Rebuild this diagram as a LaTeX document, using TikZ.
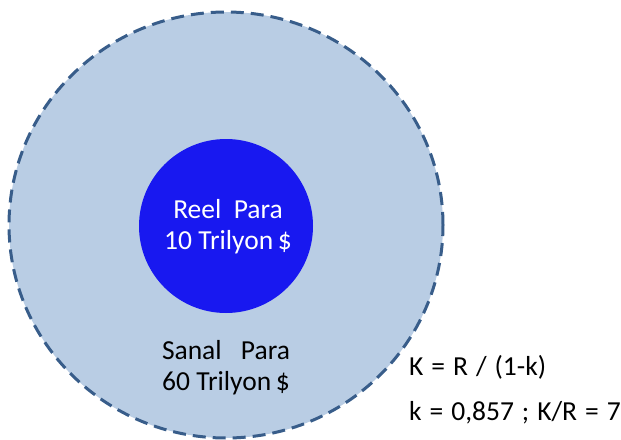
\documentclass[tikz,border=0pt]{standalone}
\usepackage{fontspec}
\setmainfont{Carlito}
\usetikzlibrary{shapes.geometric}
\definecolor{outerfill}{RGB}{185,205,228}
\definecolor{outerline}{RGB}{56,93,138}
\definecolor{innerfill}{RGB}{24,24,240}
\newcommand\widespaces{\spaceskip=0.29em\relax}
\tikzset{
  txt/.style={font=\fontsize{27.5}{31}\selectfont, align=center, inner sep=0pt},
  formula/.style={txt, anchor=west},
}
\begin{document}
\begin{tikzpicture}[x=1pt,y=-1pt]
\useasboundingbox (0,0) rectangle (621,439);
\node (outer) [ellipse, draw=outerline, fill=outerfill, line width=3pt,
  dash pattern=on 13pt off 7pt, minimum width=434pt, minimum height=426pt, inner sep=0pt] at (226,225) {};
\node (inner) [circle, fill=innerfill, minimum size=174pt, inner sep=0pt] at (226,226) {};
\node (reel) [txt, text=white] at (228,227) {Reel\hspace{0.45em}Para\\10 Trilyon\,\$};
\node (sanal) [txt, text=black] at (226,368) {Sanal\hspace{0.7em}Para\\60 Trilyon\,\$};
\node (f1) [formula] at (409,367) {\widespaces K = R / (1-k)};
\node (f2) [formula] at (409,413) {\widespaces k = 0,857 ; K/R = 7};
\end{tikzpicture}
\end{document}
